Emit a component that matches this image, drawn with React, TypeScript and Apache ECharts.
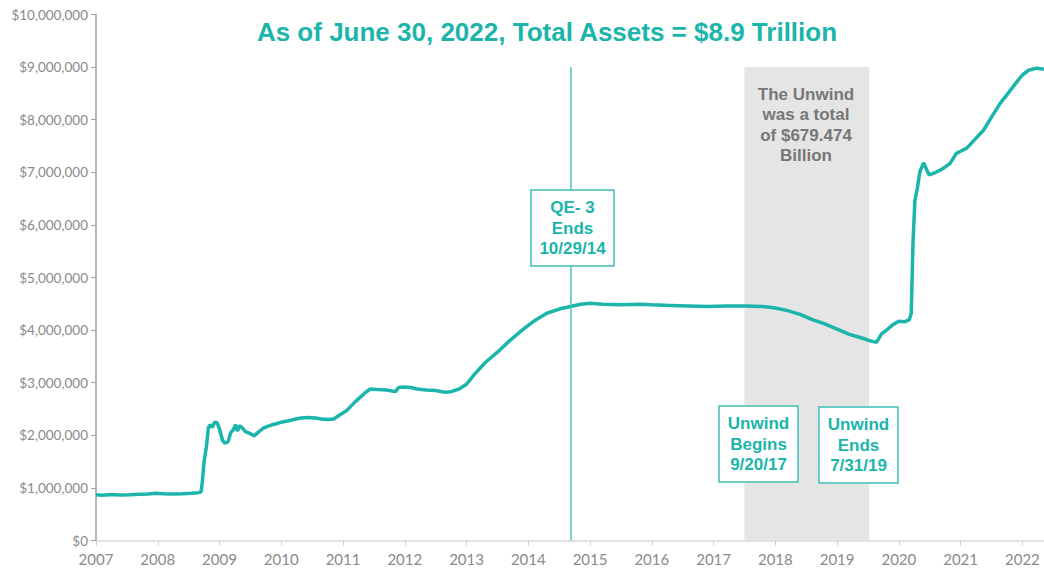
import React, { useEffect, useRef } from "react";
import * as echarts from "echarts";

// Fed total assets (millions of $), x = decimal year
const years: number[] = [
  2007.0, 2007.1, 2007.25, 2007.4, 2007.55, 2007.7, 2007.85, 2007.96, 2008.1, 2008.2, 2008.4, 2008.55, 2008.65,
  2008.7, 2008.72, 2008.75, 2008.79, 2008.82, 2008.85, 2008.88, 2008.92, 2008.96, 2009.0, 2009.05, 2009.09,
  2009.14, 2009.18, 2009.22, 2009.26, 2009.29, 2009.32, 2009.36, 2009.42, 2009.5, 2009.56, 2009.62, 2009.7,
  2009.78, 2009.85, 2009.92, 2010.0, 2010.1, 2010.2, 2010.32, 2010.45, 2010.55, 2010.65, 2010.75, 2010.85,
  2010.95, 2011.05, 2011.2, 2011.35, 2011.44, 2011.55, 2011.7, 2011.85, 2011.9, 2012.0, 2012.1, 2012.2,
  2012.35, 2012.5, 2012.65, 2012.75, 2012.88, 2013.0, 2013.12, 2013.3, 2013.5, 2013.7, 2013.9, 2014.1,
  2014.3, 2014.5, 2014.68, 2014.85, 2015.0, 2015.2, 2015.5, 2015.8, 2016.0, 2016.3, 2016.6, 2016.9, 2017.2,
  2017.5, 2017.8, 2018.0, 2018.2, 2018.4, 2018.6, 2018.8, 2019.0, 2019.2, 2019.4, 2019.55, 2019.64, 2019.72,
  2019.8, 2019.9, 2020.0, 2020.1, 2020.17, 2020.2, 2020.23, 2020.26, 2020.3, 2020.34, 2020.4, 2020.45,
  2020.49, 2020.6, 2020.7, 2020.83, 2020.93, 2021.0, 2021.1, 2021.25, 2021.37, 2021.5, 2021.64, 2021.78,
  2021.91, 2022.0, 2022.1, 2022.23, 2022.35,
];
const totalAssets: number[] = [
  870000, 860000, 875000, 865000, 870000, 880000, 885000, 900000, 890000, 885000, 890000, 900000, 910000,
  920000, 1100000, 1500000, 1800000, 2150000, 2200000, 2150000, 2250000, 2240000, 2120000, 1900000, 1850000,
  1880000, 2050000, 2100000, 2200000, 2080000, 2180000, 2150000, 2070000, 2030000, 1990000, 2050000, 2130000,
  2170000, 2200000, 2220000, 2250000, 2270000, 2300000, 2330000, 2340000, 2330000, 2310000, 2300000, 2310000,
  2390000, 2460000, 2640000, 2800000, 2880000, 2870000, 2860000, 2830000, 2910000, 2920000, 2910000, 2880000,
  2860000, 2850000, 2820000, 2830000, 2880000, 2970000, 3150000, 3380000, 3580000, 3800000, 4000000, 4180000,
  4320000, 4400000, 4450000, 4490000, 4510000, 4490000, 4480000, 4490000, 4480000, 4470000, 4460000, 4450000, 4460000,
  4460000, 4450000, 4420000, 4370000, 4300000, 4200000, 4120000, 4020000, 3920000, 3850000, 3790000, 3770000, 3930000,
  4000000, 4100000, 4170000, 4160000, 4200000, 4320000, 5700000, 6470000, 6700000, 7010000, 7180000, 7050000,
  6950000, 7000000, 7060000, 7170000, 7360000, 7400000, 7460000, 7650000, 7800000, 8050000, 8310000, 8520000,
  8720000, 8850000, 8940000, 8980000, 8960000,
];
const yearTicks: number[] = [2007, 2008, 2009, 2010, 2011, 2012, 2013, 2014, 2015, 2016, 2017, 2018, 2019, 2020, 2021, 2022];
const qe3EndX = 2014.68;
const unwindStartX = 2017.5;
const unwindEndX = 2019.52;
const annotationTop = 9000000;

const TEAL = "#1BB5AB";
const BOLD = "bold 17px 'Liberation Sans', Arial, sans-serif";

export default function App() {
  const ref = useRef<HTMLDivElement>(null);
  useEffect(() => {
    if (!ref.current) return;
    const chart = echarts.init(ref.current, null, { renderer: "svg" });
    const box = (x: number, y: number, w: number, h: number, text: string) => ({
      type: "group",
      z: 100,
      children: [
        {
          type: "rect",
          z: 100,
          shape: { x, y, width: w, height: h },
          style: { fill: "#ffffff", stroke: "#3EC0B6", lineWidth: 1.5 },
        },
        {
          type: "text",
          z: 101,
          style: {
            text,
            x: x + w / 2,
            y: y + h / 2,
            align: "center",
            verticalAlign: "middle",
            font: BOLD,
            lineHeight: 20.5,
            fill: TEAL,
          },
        },
      ],
    });
    chart.setOption({
      animation: false,
      grid: { left: 96, right: 0, top: 14.5, bottom: 28.5, containLabel: false },
      title: {
        text: "As of June 30, 2022, Total Assets = $8.9 Trillion",
        left: 542,
        top: 14,
        textAlign: "center",
        textStyle: {
          color: TEAL,
          fontSize: 26,
          fontWeight: "bold",
          fontFamily: "'Liberation Sans', Arial, sans-serif",
        },
      },
      xAxis: {
        type: "value",
        min: 2007,
        max: 2022.35,
        interval: 1,
        splitLine: { show: false },
        axisLine: { lineStyle: { color: "#D9D9D9", width: 1.5 } },
        axisTick: { show: true, length: 5, lineStyle: { color: "#CFCFCF" }, customValues: yearTicks },
        axisLabel: {
          customValues: yearTicks,
          color: "#8A8A8A",
          fontSize: 15,
          fontFamily: "Lato",
          margin: 11,
          formatter: (v: number) => (Number.isInteger(v) ? String(v) : ""),
        },
      },
      yAxis: {
        type: "value",
        min: 0,
        max: 10000000,
        interval: 1000000,
        splitLine: { show: false },
        axisLine: { show: true, lineStyle: { color: "#A0A0A0", width: 1.5 } },
        axisTick: { show: true, length: 5, lineStyle: { color: "#A0A0A0" } },
        axisLabel: {
          color: "#8A8A8A",
          fontSize: 13.5,
          fontFamily: "Lato",
          margin: 8,
          formatter: (v: number) => "$" + v.toLocaleString("en-US"),
        },
      },
      series: [
        {
          type: "line",
          data: [],
          z: 1,
          silent: true,
          markArea: {
            silent: true,
            itemStyle: { color: "#E5E5E5" },
            label: { show: false },
            data: [[{ xAxis: unwindStartX, yAxis: 0 }, { xAxis: unwindEndX, yAxis: annotationTop }]],
          },
          markLine: {
            silent: true,
            symbol: "none",
            label: { show: false },
            lineStyle: { color: "#4DC3BA", width: 1.5, type: "solid" },
            data: [[{ coord: [qe3EndX, 0] }, { coord: [qe3EndX, annotationTop] }]],
          },
        },
        {
          type: "line",
          z: 3,
          data: years.map((y, i) => [y, totalAssets[i]]),
          showSymbol: false,
          symbol: "none",
          lineStyle: { color: TEAL, width: 3.5 },
        },
      ],
      graphic: [
        box(531, 190, 83, 76, "QE- 3\nEnds\n10/29/14"),
        box(719, 406, 79, 76, "Unwind\nBegins\n9/20/17"),
        box(819, 407, 79, 76, "Unwind\nEnds\n7/31/19"),
        {
          type: "text",
          z: 100,
          style: {
            text: "The Unwind\nwas a total\nof $679.474\nBillion",
            x: 806,
            y: 125,
            align: "center",
            verticalAlign: "middle",
            font: BOLD,
            lineHeight: 20.5,
            fill: "#777777",
          },
        },
      ],
    });
    return () => chart.dispose();
  }, []);
  return (
    <div
      ref={ref}
      style={{ position: "fixed", left: 0, top: 0, width: 1044, height: 569, background: "#fff" }}
    />
  );
}
